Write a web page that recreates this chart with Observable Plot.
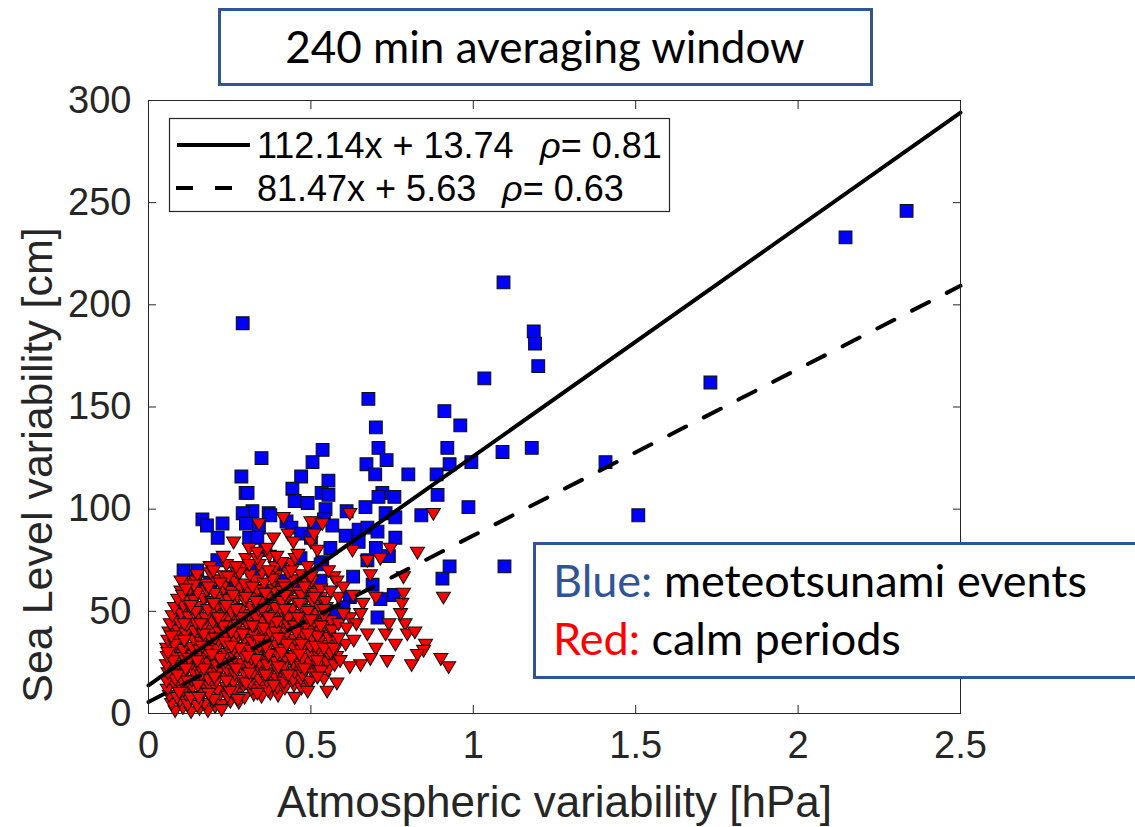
<!DOCTYPE html>
<html>
<head>
<meta charset="utf-8">
<script src="https://cdn.jsdelivr.net/npm/d3@7"></script>
<script src="https://cdn.jsdelivr.net/npm/@observablehq/plot@0.6"></script>
<style>
  html, body { margin: 0; padding: 0; background: #fff; }
  #wrap { position: relative; width: 1135px; height: 827px; overflow: hidden; background: #fff; }
  #wrap > svg.overlay { position: absolute; left: 0; top: 0; pointer-events: none; }
  #chart { position: absolute; left: 0; top: 0; }
</style>
</head>
<body>
<div id="wrap"><div id="chart"></div></div>
<script>
// ---------------- data ----------------
const xTicks = [0, 0.5, 1, 1.5, 2, 2.5];
const yTicks = [0, 50, 100, 150, 200, 250, 300];
const xLabel = "Atmospheric variability [hPa]";
const yLabel = "Sea Level variability [cm]";
const titleText = "240 min averaging window";

// fitted lines: slope, intercept, correlation
const fitSlopes = [112.14, 81.47];
const fitIntercepts = [13.74, 5.63];
const fitRho = ["0.81", "0.63"];
const fitLabels = ["112.14x + 13.74", "81.47x + 5.63"];
const fitRange = [0, 2.5];

// blue squares: meteotsunami events [atm variability hPa, sea level cm]
const meteoEvents = [
  [2.334,246],[2.146,233],[1.73,162],[1.407,123],[1.508,97],[1.093,211],[1.186,187],[1.19,181],
  [1.2,170],[1.034,164],[1.18,130],[1.09,128],[1.096,72],[0.994,123],[0.96,141],[0.985,101],
  [0.911,148],[0.92,130],[0.927,122],[0.887,117],[0.80,117],[0.89,107],[0.927,72],[0.905,66],
  [0.677,154],[0.70,140],[0.708,130],[0.733,124],[0.671,122],[0.698,117],[0.536,129],[0.505,123],
  [0.47,116],[0.554,114],[0.533,108],[0.554,107],[0.49,103],[0.545,100],[0.54,95],[0.668,101],
  [0.72,108],[0.708,106],[0.757,106],[0.73,98],[0.76,96],[0.84,97],[0.61,99],[0.29,191],
  [0.348,125],[0.286,116],[0.299,108],[0.305,108],[0.443,110],[0.45,104],[0.32,99],[0.37,98],
  [0.29,98],[0.166,95],[0.18,92],[0.228,93],[0.213,86],[0.212,75],[0.108,70],[0.15,70],
  [0.145,61],[0.1,55],[0.1,49],[0.19,64],[0.09,41],[0.095,45],[0.12,58],[0.09,36],
  [0.566,92],[0.607,87],[0.647,90],[0.674,91],[0.705,89],[0.76,86],[0.647,84],[0.70,81],
  [0.74,77],[0.674,75],[0.63,67],[0.69,63],[0.62,57],[0.714,56],[0.755,58],[0.705,47],
  [0.56,81],[0.535,74],[0.6,52],[0.575,47],[0.51,93],[0.425,94],[0.44,91],[0.375,97],
  [0.3,93],[0.34,91],[0.31,86],[0.36,80],[0.335,86],[0.415,65],[0.53,65],[0.55,50],
  [0.58,49],[0.405,73],[0.468,76],[0.53,73],[0.32,70],[0.25,62],[0.47,88],[0.5,86],
  [0.13,40],[0.11,30],[0.35,60],[0.45,62]
];

// red triangles: calm periods (dense cluster, row by row)
const calmPeriods = [
  [0.082,1.5],[0.106,3],[0.131,1],[0.157,2.5],[0.183,1.5],[0.205,3.5],
  [0.071,5],[0.097,6.5],[0.121,4.5],[0.148,6],[0.173,5],[0.2,6.5],[0.225,4.5],[0.252,6],[0.278,5.5],
  [0.064,9],[0.088,8],[0.116,9.5],[0.14,8.5],[0.168,10],[0.192,8],[0.22,9.5],[0.244,8.5],[0.272,10],[0.296,8],[0.324,9.5],[0.348,8.5],[0.375,10],[0.399,9],
  [0.058,12],[0.084,13.5],[0.108,11.5],[0.136,13],[0.16,12],[0.188,13.5],[0.212,11.5],[0.24,13],[0.264,12],[0.292,14],[0.316,12],[0.344,13.5],[0.368,11.5],[0.396,13],[0.42,12.5],[0.448,14],[0.471,12.5],[0.495,14.5],
  [0.056,16],[0.082,17],[0.105,15.5],[0.133,16.5],[0.157,15],[0.185,17],[0.209,16],[0.237,17.5],[0.261,15.5],[0.289,16.5],[0.313,15],[0.341,17],[0.365,16],[0.393,17.5],[0.417,15.5],[0.445,16.5],[0.469,17],[0.497,16],[0.52,18],[0.54,17],
  [0.06,20],[0.086,21],[0.11,19.5],[0.138,20.5],[0.162,19],[0.19,21],[0.214,20],[0.242,21.5],[0.266,19.5],[0.294,20.5],[0.318,19],[0.346,21],[0.37,20],[0.398,21.5],[0.422,19.5],[0.45,20.5],[0.474,19],[0.502,21],[0.526,20],[0.553,21.5],
  [0.055,24],[0.081,25],[0.105,23.5],[0.133,24.5],[0.157,23],[0.185,25],[0.209,24],[0.237,25.5],[0.261,23.5],[0.289,24.5],[0.313,23],[0.341,25],[0.365,24],[0.393,25.5],[0.417,23.5],[0.445,24.5],[0.469,23],[0.497,25],[0.521,24],[0.549,25.5],[0.573,24],
  [0.058,28],[0.084,29],[0.109,27.5],[0.137,28.5],[0.161,27],[0.189,29],[0.213,28],[0.241,29.5],[0.265,27.5],[0.293,28.5],[0.317,27],[0.345,29],[0.369,28],[0.397,29.5],[0.421,27.5],[0.449,28.5],[0.473,27],[0.501,29],[0.525,28],[0.553,29.5],[0.579,28],
  [0.056,32],[0.082,33],[0.106,31.5],[0.134,32.5],[0.158,31],[0.186,33],[0.21,32],[0.238,33.5],[0.262,31.5],[0.29,32.5],[0.314,31],[0.342,33],[0.366,32],[0.394,33.5],[0.418,31.5],[0.446,32.5],[0.47,31],[0.498,33],[0.522,32],[0.55,33.5],[0.576,32],
  [0.06,36],[0.087,37],[0.111,35.5],[0.139,36.5],[0.163,35],[0.191,37],[0.215,36],[0.243,37.5],[0.267,35.5],[0.295,36.5],[0.319,35],[0.347,37],[0.371,36],[0.399,37.5],[0.423,35.5],[0.451,36.5],[0.475,35],[0.503,37],[0.527,36],[0.555,37.5],[0.58,36],
  [0.063,40],[0.09,41],[0.114,39.5],[0.142,40.5],[0.166,39],[0.194,41],[0.218,40],[0.246,41.5],[0.27,39.5],[0.298,40.5],[0.322,39],[0.35,41],[0.374,40],[0.402,41.5],[0.426,39.5],[0.454,40.5],[0.478,39],[0.506,41],[0.53,40],[0.558,41.5],
  [0.067,44],[0.094,45],[0.118,43.5],[0.146,44.5],[0.17,43],[0.198,45],[0.222,44],[0.25,45.5],[0.274,43.5],[0.302,44.5],[0.326,43],[0.354,45],[0.378,44],[0.406,45.5],[0.43,43.5],[0.458,44.5],[0.482,43],[0.51,45],[0.534,44],[0.561,45.5],
  [0.073,48],[0.1,49],[0.124,47.5],[0.152,48.5],[0.176,47],[0.204,49],[0.228,48],[0.256,49.5],[0.28,47.5],[0.308,48.5],[0.332,47],[0.36,49],[0.384,48],[0.412,49.5],[0.436,47.5],[0.464,48.5],[0.488,47],[0.516,49],[0.54,48],
  [0.08,52],[0.107,53],[0.131,51.5],[0.159,52.5],[0.183,51],[0.211,53],[0.235,52],[0.263,53.5],[0.287,51.5],[0.315,52.5],[0.339,51],[0.367,53],[0.391,52],[0.419,53.5],[0.443,51.5],[0.471,52.5],[0.495,51],[0.523,53],[0.547,52],
  [0.09,56],[0.117,57],[0.141,55.5],[0.169,56.5],[0.193,55],[0.221,57],[0.245,56],[0.273,57.5],[0.297,55.5],[0.325,56.5],[0.349,55],[0.377,57],[0.401,56],[0.429,57.5],[0.453,55.5],[0.481,56.5],[0.505,55],[0.531,57],
  [0.1,60],[0.127,61],[0.151,59.5],[0.179,60.5],[0.203,59],[0.231,61],[0.255,60],[0.283,61.5],[0.307,59.5],[0.335,60.5],[0.359,59],[0.387,61],[0.411,60],[0.439,61.5],[0.463,59.5],[0.491,60.5],[0.514,59],
  [0.116,64],[0.146,65],[0.176,63.5],[0.206,65.5],[0.236,64],[0.266,65],[0.296,63.5],[0.326,65.5],[0.356,64],[0.386,65],[0.416,63.5],[0.446,65.5],[0.476,64],[0.502,65],
  [0.15,68],[0.19,69],[0.232,67.5],[0.27,69.5],[0.312,68],[0.35,69],[0.392,67.5],[0.43,69],[0.47,68],
  [0.19,72],[0.24,73],[0.292,71.5],[0.34,73],[0.39,72],[0.44,73.5],[0.49,72],
  [0.23,77],[0.3,76],[0.372,77.5],[0.452,76]
];

// red triangles: calm periods lying on top inside the cluster (irregular)
const calmOverlay = [
  [0.095,10.5],[0.152,14],[0.203,18],[0.27,22],[0.33,26.5],[0.41,30],[0.47,34],[0.52,38],[0.125,27],
  [0.178,31],[0.235,35],[0.29,39],[0.355,42],[0.43,47],[0.49,50],[0.08,34],[0.11,44],[0.145,50],
  [0.2,54],[0.26,58],[0.32,62],[0.38,66],[0.44,70],[0.5,67],[0.53,61],[0.545,55],[0.36,19],
  [0.4,23],[0.44,27],[0.48,22],[0.52,26],[0.56,30],[0.3,15],[0.25,11],[0.2,7],[0.15,4],
  [0.12,16],[0.17,22],[0.22,27],[0.28,32],[0.34,36],[0.39,40],[0.45,43],[0.5,46],[0.54,51],
  [0.47,58],[0.41,55],[0.35,51],[0.29,47],[0.23,43],[0.17,39],[0.11,36],[0.075,26],[0.09,19],
  [0.13,8],[0.185,10],[0.24,16],[0.31,20],[0.37,29],[0.425,34],[0.455,40],[0.395,45],[0.33,55],
  [0.27,51],[0.215,47],[0.16,44],[0.13,53],[0.185,62],[0.245,67],[0.31,73],[0.37,70],[0.42,62],
  [0.48,62],[0.515,33],[0.565,41],[0.585,44],[0.06,30],[0.07,38],[0.105,58],[0.14,63],[0.22,64],
  [0.28,69],[0.41,74],[0.335,76],[0.465,29],[0.43,19],[0.385,14],[0.335,10],[0.275,7],[0.225,2],
  [0.155,8],[0.115,22],[0.15,26],[0.195,29],[0.255,33],[0.305,28],[0.36,33],[0.4,37],[0.49,39],
  [0.53,43],[0.255,40],[0.205,37],[0.165,33],[0.32,43],[0.37,47],[0.42,51],[0.465,54],[0.51,57],
  [0.24,53],[0.3,57],[0.36,59],[0.42,58],[0.46,47]
];

// red triangles: calm periods scattered outside the dense cluster
const calmScatter = [
  [0.415,96],[0.5,94],[0.535,93],[0.62,98],[0.877,98],[0.262,84],[0.34,93],[0.385,86],[0.43,88],
  [0.446,84],[0.5,84],[0.745,81],[0.828,79],[0.785,67],[0.908,57],[0.628,80],[0.683,68],[0.674,75],
  [0.714,76],[0.31,81],[0.335,79],[0.2,70],[0.27,72],[0.1,65],[0.115,61],[0.365,81],[0.395,77],
  [0.46,78],[0.51,88],[0.52,80],[0.57,67],[0.585,57],[0.554,70],[0.58,65],[0.7,57],[0.66,54],
  [0.62,47],[0.64,44],[0.61,42],[0.674,39],[0.70,32],[0.73,39],[0.735,26],[0.683,27],[0.653,24],
  [0.62,23],[0.59,26],[0.58,15],[0.53,21],[0.54,32],[0.57,32],[0.607,34],[0.632,36],[0.585,37],
  [0.653,49],[0.6,49],[0.49,11],[0.52,18],[0.79,44],[0.797,39],[0.853,34],[0.847,31],[0.828,29],
  [0.9,27],[0.924,23],[0.776,49],[0.78,54],[0.785,59],[0.81,24],[0.82,40],[0.74,44],[0.76,34],
  [0.63,58],[0.6,62],[0.56,60],[0.55,11],[0.45,8]
];

// ---------------- symbols ----------------
const squareSym = { draw(ctx, size) { const w = Math.sqrt(size); ctx.rect(-w/2, -w/2, w, w); } };
const triDownSym = { draw(ctx, size) {
  const s = Math.sqrt(size);
  ctx.moveTo(-0.62*s, -0.42*s); ctx.lineTo(0.62*s, -0.42*s); ctx.lineTo(0, 0.62*s); ctx.closePath();
} };

const calmAll = calmPeriods.concat(calmOverlay, calmScatter);
const fits = fitSlopes.map((m, i) => fitRange.map(x => ({x, y: m * x + fitIntercepts[i], k: i})));

const ink = "#262626";
const chart = Plot.plot({
  width: 1135, height: 827,
  marginLeft: 148, marginRight: 175, marginTop: 100, marginBottom: 114,
  style: {fontFamily: "'Liberation Sans', Arial, sans-serif", background: "white", color: ink, overflow: "visible"},
  x: {domain: [0, 2.5], label: null},
  y: {domain: [0, 300], label: null},
  marks: [
    Plot.dot(meteoEvents, {x: d => d[0], y: d => d[1], symbol: squareSym, r: 7.2, fill: "#0000ff", stroke: "#111", strokeWidth: 1.1}),
    Plot.dot(calmAll, {x: d => d[0], y: d => d[1], symbol: triDownSym, r: 6.4, fill: "#ff0000", stroke: "#111", strokeWidth: 1.05}),
    Plot.line(fits[0], {x: "x", y: "y", stroke: "black", strokeWidth: 4}),
    Plot.line(fits[1], {x: "x", y: "y", stroke: "black", strokeWidth: 4, strokeDasharray: "19,20"}),
    Plot.frame({stroke: ink, strokeWidth: 1}),
    Plot.axisX(xTicks, {anchor: "bottom", tickSize: 0, tickPadding: 18, fontSize: 38, tickFormat: d => String(d), label: null}),
    Plot.axisY(yTicks, {anchor: "left", tickSize: 0, tickPadding: 17, fontSize: 38, tickFormat: d => String(d), label: null}),
    Plot.axisX(xTicks, {anchor: "bottom", tickSize: -8, tickFormat: () => "", label: null}),
    Plot.axisX(xTicks, {anchor: "top", tickSize: -8, tickFormat: () => "", label: null}),
    Plot.axisY(yTicks, {anchor: "left", tickSize: -8, tickFormat: () => "", label: null}),
    Plot.axisY(yTicks, {anchor: "right", tickSize: -8, tickFormat: () => "", label: null}),
    Plot.text([xLabel], {frameAnchor: "bottom", text: d => d, fontSize: 44, textAnchor: "middle", lineAnchor: "middle", dy: 89, fill: ink}),
    Plot.text([yLabel], {frameAnchor: "left", text: d => d, fontSize: 43, rotate: -90, textAnchor: "middle", lineAnchor: "middle", dx: -110, dy: 58, fill: ink})
  ]
});
document.getElementById("chart").appendChild(chart);

// ---------------- overlays: title box, legend, annotation ----------------
const NS = "http://www.w3.org/2000/svg";
const ov = document.createElementNS(NS, "svg");
ov.setAttribute("class", "overlay");
ov.setAttribute("width", 1135); ov.setAttribute("height", 827);
document.getElementById("wrap").appendChild(ov);
function el(tag, attrs, parent = ov) {
  const e = document.createElementNS(NS, tag);
  for (const k in attrs) e.setAttribute(k, attrs[k]);
  parent.appendChild(e); return e;
}
function tspan(parent, text, attrs = {}) { const t = el("tspan", attrs, parent); t.textContent = text; return t; }

const boxBlue = "#2F5597";
// title
el("rect", {x: 219.5, y: 9.5, width: 652, height: 75, fill: "white", stroke: boxBlue, "stroke-width": 3});
const tt = el("text", {x: 545, y: 63, "text-anchor": "middle", "font-family": "Lato, 'Open Sans', sans-serif", "font-size": 44, fill: "#000"});
tt.textContent = titleText;

// legend
el("rect", {x: 169.5, y: 118.5, width: 500, height: 93, fill: "white", stroke: ink, "stroke-width": 1.2});
el("line", {x1: 177, x2: 250, y1: 145, y2: 145, stroke: "black", "stroke-width": 4});
el("line", {x1: 176, x2: 250, y1: 188, y2: 188, stroke: "black", "stroke-width": 4, "stroke-dasharray": "17,22"});
const legFont = {"font-family": "'Liberation Sans', Arial, sans-serif", "font-size": 36, fill: "#000"};
const rhoX = [540, 502];
const rowY = [158, 201];
fitLabels.forEach((lab, i) => {
  const t1 = el("text", {x: 257, y: rowY[i], ...legFont}); t1.textContent = lab;
  const t2 = el("text", {x: rhoX[i], y: rowY[i], ...legFont});
  tspan(t2, "ρ", {"font-style": "italic"});
  tspan(t2, "= " + fitRho[i]);
});

// annotation
el("rect", {x: 534.5, y: 543.5, width: 700, height: 134, fill: "white", stroke: boxBlue, "stroke-width": 3});
const annFont = {"font-family": "Lato, 'Open Sans', sans-serif", "font-size": 45};
const a1 = el("text", {x: 553, y: 597, ...annFont});
tspan(a1, "Blue:", {fill: "#2F5597"}); tspan(a1, " meteotsunami events", {fill: "#000"});
const a2 = el("text", {x: 553, y: 655, ...annFont});
tspan(a2, "Red:", {fill: "#FF0000"}); tspan(a2, " calm periods", {fill: "#000"});
</script>
</body>
</html>
